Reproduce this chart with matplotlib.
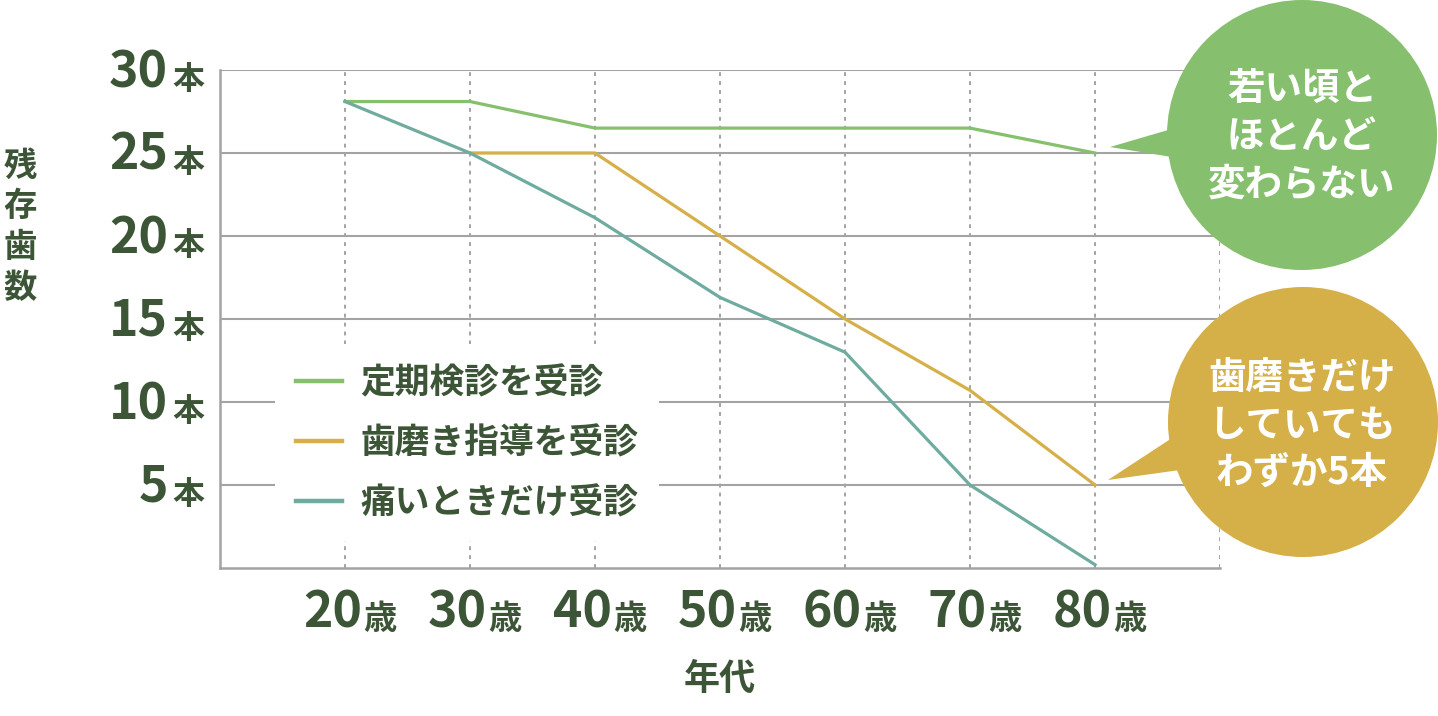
import numpy as np
import matplotlib
matplotlib.use("Agg")
import matplotlib.pyplot as plt
from matplotlib.patches import Circle, Polygon

plt.rcParams['font.family'] = ['Noto Sans CJK JP', 'DejaVu Sans']

# data
ages = [20, 30, 40, 50, 60, 70, 80]
teeth_ticks = [5, 10, 15, 20, 25, 30]
regular = [28.1, 28.1, 26.5, 26.5, 26.5, 26.5, 25.0]
brushing_ages = [30, 40, 50, 60, 70, 80]
brushing = [25.0, 25.0, 20.0, 15.0, 10.7, 5.0]
pain_only = [28.1, 25.0, 21.1, 16.3, 13.0, 5.0, 0.2]
labels = ['定期検診を受診', '歯磨き指導を受診', '痛いときだけ受診']
bubble1 = '若い頃と\nほとんど\n変わらない'
bubble2 = '歯磨きだけ\nしていても\nわずか5本'

c_green = '#86C06E'
c_gold = '#D5AF47'
c_teal = '#6FAB9E'
c_text = '#3B5536'
c_grid = '#A3A3A3'

W, H = 1438, 716
fig = plt.figure(figsize=(W / 100, H / 100), dpi=100)
ax = fig.add_axes([220 / W, (H - 568) / H, 1000 / W, 498 / H])
ax.set_xlim(10, 90)
ax.set_ylim(0, 30)

for y in teeth_ticks:
    ax.axhline(y, color=c_grid, lw=1.5, zorder=1)
for x in ages + [90]:
    ax.axvline(x, color=c_grid, lw=1.4, ls=(0, (2, 2.6)), zorder=1)

for s in ['top', 'right']:
    ax.spines[s].set_visible(False)
for s in ['left', 'bottom']:
    ax.spines[s].set_color(c_grid)
    ax.spines[s].set_linewidth(1.8)
ax.set_xticks([])
ax.set_yticks([])

ax.plot(ages, regular, color=c_green, lw=2.3, label=labels[0], zorder=3)
ax.plot(brushing_ages, brushing, color=c_gold, lw=2.3, label=labels[1], zorder=3)
ax.plot(ages, pain_only, color=c_teal, lw=2.3, label=labels[2], zorder=3)

# y tick labels: number + 本
for y in teeth_ticks:
    ax.annotate(str(y), xy=(-0.052, y), xycoords=('axes fraction', 'data'),
                xytext=(0, -17), textcoords='offset pixels',
                ha='right', va='baseline', fontsize=36, color=c_text,
                fontweight='bold')
    ax.annotate('本', xy=(-0.052, y), xycoords=('axes fraction', 'data'),
                xytext=(4, -19), textcoords='offset pixels',
                ha='left', va='baseline', fontsize=23, color=c_text,
                fontweight='bold')

# x tick labels: number + 歳
for a in ages:
    ax.annotate(str(a), xy=(a, 0), xycoords=('data', 'axes fraction'),
                xytext=(17, -59), textcoords='offset pixels',
                ha='right', va='baseline', fontsize=36, color=c_text,
                fontweight='bold')
    ax.annotate('歳', xy=(a, 0), xycoords=('data', 'axes fraction'),
                xytext=(18, -61), textcoords='offset pixels',
                ha='left', va='baseline', fontsize=24, color=c_text,
                fontweight='bold')

ax.annotate('年代', xy=(50, 0), xycoords=('data', 'axes fraction'),
            xytext=(0, -111), textcoords='offset pixels',
            ha='center', va='center', fontsize=26, color=c_text,
            fontweight='bold')

fig.text(20 / W, 1 - 227 / H, '\n'.join('残存歯数'), ha='center', va='center',
         fontsize=24, color=c_text, fontweight='bold', linespacing=1.3)

leg = ax.legend(loc='lower left', bbox_to_anchor=(0.055, 0.054),
                borderaxespad=0, frameon=True,
                prop={'size': 25, 'weight': 'bold'},
                handlelength=1.33, handletextpad=0.52, labelspacing=0.72,
                borderpad=0.6, fancybox=False)
leg.get_frame().set_facecolor('white')
leg.get_frame().set_edgecolor('none')
leg.get_frame().set_alpha(1)
leg.set_zorder(4)
for t in leg.get_texts():
    t.set_color(c_text)
for h in leg.get_lines():
    h.set_linewidth(3.2)

# speech bubbles in pixel space
ov = fig.add_axes([0, 0, 1, 1], zorder=10)
ov.set_xlim(0, W)
ov.set_ylim(H, 0)
ov.axis('off')
ov.patch.set_alpha(0)

ov.add_patch(Circle((1302, 135), 135, color=c_green, lw=0))
ov.add_patch(Polygon([(1110, 147), (1175, 128), (1178, 158)], closed=True,
                     color=c_green, lw=0))
ov.text(1302, 136, bubble1, ha='center', va='center', fontsize=27,
        color='white', fontweight='bold', linespacing=1.28)

ov.add_patch(Circle((1303, 422), 135, color=c_gold, lw=0))
ov.add_patch(Polygon([(1108, 480), (1172, 438), (1180, 470)], closed=True,
                     color=c_gold, lw=0))
ov.text(1302, 425, bubble2, ha='center', va='center', fontsize=27,
        color='white', fontweight='bold', linespacing=1.28)

fig.savefig('out.png', dpi=100, facecolor='white')
